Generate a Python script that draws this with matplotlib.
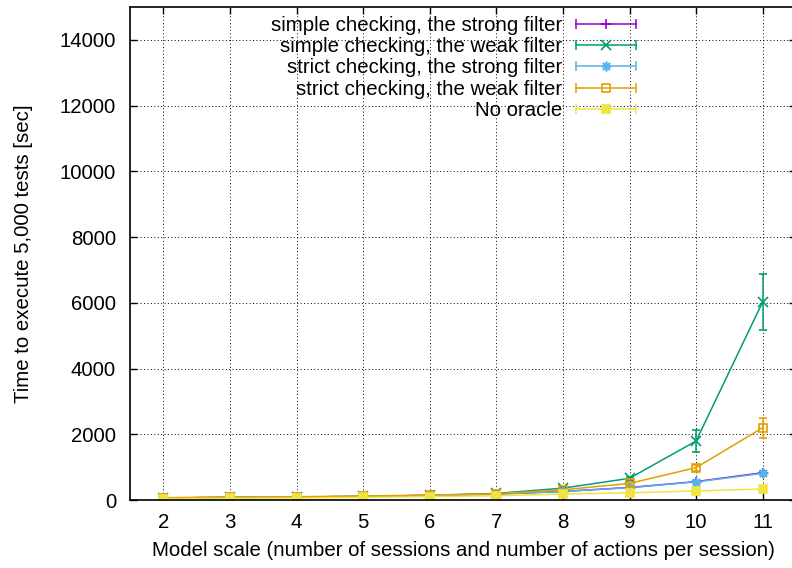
import matplotlib
matplotlib.use("Agg")
import matplotlib.pyplot as plt
from matplotlib.lines import Line2D
from matplotlib.legend_handler import HandlerBase
import numpy as np

plt.rcParams['font.family'] = ['Liberation Sans', 'DejaVu Sans']

x = [2, 3, 4, 5, 6, 7, 8, 9, 10, 11]
labels = ["simple checking, the strong filter",
          "simple checking, the weak filter",
          "strict checking, the strong filter",
          "strict checking, the weak filter",
          "No oracle"]
simple_strong = [60, 80, 90, 110, 140, 180, 260, 380, 560, 830]
simple_strong_err = [5, 5, 5, 8, 10, 10, 15, 20, 30, 40]
simple_weak = [60, 80, 90, 110, 140, 200, 360, 660, 1795, 6030]
simple_weak_err = [5, 5, 5, 8, 10, 15, 25, 50, 340, 850]
strict_strong = [60, 80, 90, 110, 140, 180, 260, 375, 550, 810]
strict_strong_err = [5, 5, 5, 8, 10, 10, 15, 20, 30, 40]
strict_weak = [70, 90, 100, 120, 150, 190, 310, 505, 985, 2200]
strict_weak_err = [5, 5, 5, 8, 10, 15, 20, 40, 90, 300]
no_oracle = [40, 50, 60, 80, 100, 130, 180, 220, 275, 335]
no_oracle_err = [3, 3, 3, 4, 5, 5, 8, 10, 12, 15]

series = [simple_strong, simple_weak, strict_strong, strict_weak, no_oracle]
errs = [simple_strong_err, simple_weak_err, strict_strong_err, strict_weak_err, no_oracle_err]
colors = ['#9400d3', '#009e73', '#56b4e9', '#e69f00', '#f0e442']
markers = ['+', 'x', (8, 2, 0), 's', 's']
fills = ['full', 'full', 'full', 'none', 'full']
msizes = [6.5, 6.5, 7, 5.5, 6]

FS = 14.7

fig = plt.figure(figsize=(7.92, 5.68), dpi=100)
ax = fig.add_axes([130/792, 1-500/568, 666/792, 493/568])

for ys, es, c, m, f, ms, lab in zip(series, errs, colors, markers, fills, msizes, labels):
    ax.errorbar(x, ys, yerr=es, color=c, marker=m, fillstyle=f, markersize=ms,
                markeredgewidth=1.2, linewidth=1.1, capsize=3, capthick=1.1,
                elinewidth=1.1, label=lab)

ax.set_xlim(1.5, 11.5)
ax.set_ylim(0, 15000)
ax.set_xticks(x)
ax.set_yticks(np.arange(0, 15000, 2000))
ax.grid(True, color='black', linestyle=(0, (1, 2.5)), linewidth=0.7)
ax.tick_params(direction='in', length=5, width=1, labelsize=FS, top=True, right=True)
ax.tick_params(axis='y', pad=10)
ax.tick_params(axis='x', pad=9)
for s in ax.spines.values():
    s.set_linewidth(1.2)
ax.set_xlabel("Model scale (number of sessions and number of actions per session)", fontsize=FS, labelpad=7)
ax.set_ylabel("Time to execute 5,000 tests [sec]", fontsize=FS, labelpad=19)


class ErrHandler(HandlerBase):
    def __init__(self, color, marker, fill, ms):
        super().__init__()
        self.c, self.m, self.f, self.ms = color, marker, fill, ms

    def create_artists(self, legend, orig_handle, xdescent, ydescent, width, height, fontsize, trans):
        y = height / 2 - ydescent
        x0, x1 = -xdescent, width - xdescent
        line = Line2D([x0, x1], [y, y], color=self.c, lw=1.1, transform=trans)
        caps = Line2D([x0, x1], [y, y], color=self.c, lw=0, marker='|', markersize=7,
                      markeredgewidth=1.1, transform=trans)
        mk = Line2D([(x0 + x1) / 2], [y], color=self.c, lw=0, marker=self.m,
                    fillstyle=self.f, markersize=self.ms, markeredgewidth=1.2, transform=trans)
        return [line, caps, mk]


handles = [Line2D([], [], color=c) for c in colors]
hmap = {h: ErrHandler(c, m, f, ms) for h, c, m, f, ms in zip(handles, colors, markers, fills, msizes)}
ax.legend(handles, labels, handler_map=hmap, loc='upper right',
          bbox_to_anchor=(636/792, 1-16/568), bbox_transform=fig.transFigure,
          frameon=False, markerfirst=False, fontsize=FS, borderpad=0, borderaxespad=0,
          handlelength=2.95, handletextpad=0.68, labelspacing=0.11)

fig.savefig("out.png", dpi=100)
